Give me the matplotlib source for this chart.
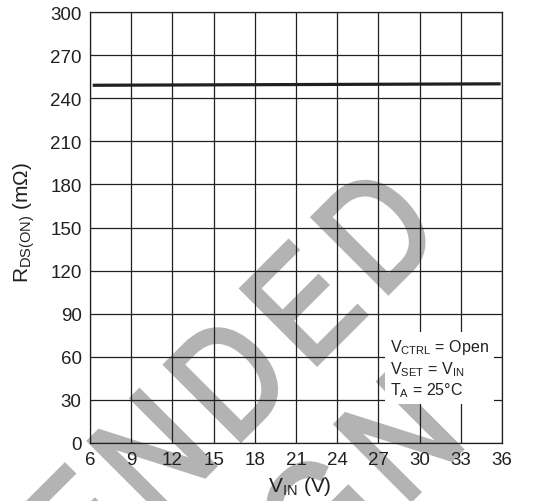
import matplotlib
matplotlib.use("Agg")
import matplotlib.pyplot as plt
from matplotlib.textpath import TextPath
from matplotlib.patches import PathPatch
from matplotlib.font_manager import FontProperties, findfont, get_font
from matplotlib.transforms import Affine2D

plt.rcParams["font.family"] = ["Liberation Sans", "DejaVu Sans"]
plt.rcParams["mathtext.fontset"] = "custom"
plt.rcParams["mathtext.rm"] = "Liberation Sans"
plt.rcParams["mathtext.it"] = "Liberation Sans:italic"
plt.rcParams["mathtext.bf"] = "Liberation Sans:bold"

# data
vin = [6.2, 35.9]
rds_on = [249, 250]
x_ticks = [6, 9, 12, 15, 18, 21, 24, 27, 30, 33, 36]
y_ticks = [0, 30, 60, 90, 120, 150, 180, 210, 240, 270, 300]
note_lines = [r"V$_{\mathrm{CTRL}}$ = Open",
              r"V$_{\mathrm{SET}}$ = V$_{\mathrm{IN}}$",
              r"T$_{\mathrm{A}}$ = 25°C"]
watermark = ["NOT RECOMMENDED", "FOR NEW DESIGN"]

ink = "#231f20"
grey = "#b3b3b3"
W, H = 548, 502

fig = plt.figure(figsize=(W / 100, H / 100), dpi=100)
ax = fig.add_axes([90 / W, 58 / H, 412 / W, 431 / H])
ax.set_facecolor("none")


def add_watermark_line(text, last_origin, size=155, narrow=0.82, track=16, angle=45):
    """Lay the text out char by char so that the last char sits at last_origin (px)."""
    fp = FontProperties(family="Liberation Sans")
    font = get_font(findfont(fp))
    font.set_size(size, 72)
    advs = []
    for c in text:
        g = font.load_char(ord(c))
        advs.append(g.linearHoriAdvance / 65536 * narrow + track)
    x = -sum(advs[:-1])
    for c, a in zip(text, advs):
        if c != " ":
            tp = TextPath((0, 0), c, size=size, prop=fp)
            tr = (Affine2D().scale(narrow, 1).translate(x, 0).rotate_deg(angle)
                  .translate(*last_origin).scale(1 / 100) + fig.dpi_scale_trans)
            fig.patches.append(PathPatch(tp, transform=tr, fc=grey, ec=grey,
                                         lw=3.2, joinstyle="miter", zorder=-10))
        x += a


# origins of the last glyph of each line, pixels from bottom-left
add_watermark_line(watermark[0], (381, H - 301))
add_watermark_line(watermark[1], (404, H - 508))

ax.plot(vin, rds_on, color=ink, lw=2.3, solid_capstyle="butt", zorder=2)

ax.set_xlim(6, 36)
ax.set_ylim(0, 300)
ax.set_xticks(x_ticks)
ax.set_yticks(y_ticks)
ax.grid(True, color=ink, lw=0.9)
ax.tick_params(length=0, labelsize=13.5, labelcolor=ink, pad=6)
for s in ax.spines.values():
    s.set_color(ink)
    s.set_linewidth(0.9)

ax.set_ylabel(r"R$_{\mathrm{DS(ON)}}$ (m$\Omega$)", fontsize=15, color=ink)
ax.yaxis.set_label_coords(-0.128, 0.513)
ax.set_xlabel(r"V$_{\mathrm{IN}}$ (V)", fontsize=15, color=ink)
ax.xaxis.set_label_coords(0.51, -0.072)

ax.text(27.85, 73.5, "\n".join(note_lines), fontsize=11.5, color=ink,
        ha="left", va="top", linespacing=1.18, zorder=4,
        bbox=dict(boxstyle="square,pad=0.3", fc="white", ec="none"))

fig.savefig("out.png", dpi=100)
